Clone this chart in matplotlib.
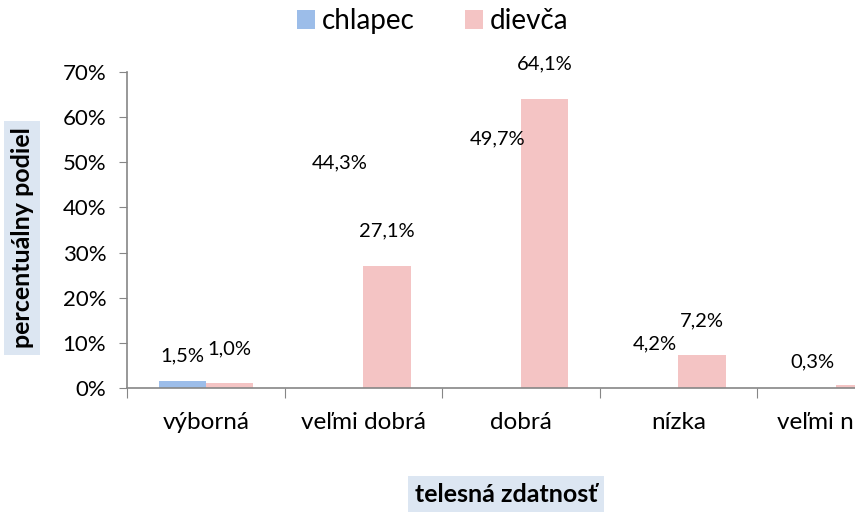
import matplotlib
matplotlib.use('Agg')
import matplotlib.pyplot as plt
import numpy as np

categories = ['výborná', 'veľmi dobrá', 'dobrá', 'nízka', 'veľmi nízka']
chlapec = [1.5, 44.3, 49.7, 4.2, 0.3]
dievca = [1.0, 27.1, 64.1, 7.2, 0.6]
chlapec_labels = ['1,5%', '44,3%', '49,7%', '4,2%', '0,3%']
# the last girl label lies outside the cropped picture in the original
dievca_labels = ['1,0%', '27,1%', '64,1%', '7,2%', None]
# only the first boy bar is drawn in the original
chlapec_shown = [True, False, False, False, False]

blue = '#9cbde9'
pink = '#f4c4c4'
grey = '#868686'
box = '#dce6f2'

plt.rcParams['font.family'] = ['Lato', 'DejaVu Sans']

fig = plt.figure(figsize=(8.55, 5.12), dpi=100)
# the plot runs past the right edge of the picture, as in the source
ax = fig.add_axes([127 / 855, 124 / 512, 787.5 / 855, 316 / 512])

x = np.arange(len(categories))
w = 0.3
ax.bar(x - w / 2, chlapec, w, color=[blue if s else 'none' for s in chlapec_shown],
       label='chlapec', zorder=2)
ax.bar(x + w / 2, dievca, w, color=pink, label='dievča', zorder=2)

for i in range(len(categories)):
    ax.annotate(chlapec_labels[i], (x[i] - w / 2, chlapec[i]), xytext=(0, 18),
                textcoords='offset points', ha='center', va='center', fontsize=14.5)
    if dievca_labels[i]:
        ax.annotate(dievca_labels[i], (x[i] + w / 2, dievca[i]), xytext=(0, 25),
                    textcoords='offset points', ha='center', va='center', fontsize=14.5)

ax.set_xlim(-0.5, len(categories) - 0.5)
ax.set_ylim(0, 70)
ax.set_yticks(range(0, 71, 10))
ax.set_yticklabels([f'{v}%' for v in range(0, 71, 10)], fontsize=16)

ax.set_xticks(np.arange(-0.5, len(categories), 1))
ax.set_xticklabels([])
ax.set_xticks(x, minor=True)
ax.set_xticklabels(categories, minor=True, fontsize=17.5)
ax.tick_params(axis='x', which='minor', length=0, pad=17)
ax.tick_params(axis='x', which='major', length=7, color=grey, direction='out')
ax.tick_params(axis='y', length=6, color=grey, pad=9)

for s in ['top', 'right']:
    ax.spines[s].set_visible(False)
for s in ['left', 'bottom']:
    ax.spines[s].set_color(grey)
    ax.spines[s].set_linewidth(1.2)

fig.text(22 / 855, 1 - 238 / 512, 'percentuálny podiel', rotation=90, ha='center', va='center',
         fontsize=18, fontweight='bold',
         bbox=dict(boxstyle='square,pad=0.25', fc=box, ec='none'))
fig.text(506 / 855, 1 - 494 / 512, 'telesná zdatnosť', ha='center', va='center',
         fontsize=18, fontweight='bold',
         bbox=dict(boxstyle='square,pad=0.28', fc=box, ec='none'))

leg = fig.legend(loc='center', bbox_to_anchor=(433 / 855, 1 - 21 / 512), ncol=2,
                 frameon=False, fontsize=20, handlelength=0.65, handleheight=0.65,
                 handletextpad=0.25, columnspacing=1.8)
leg.legend_handles[0].set_facecolor(blue)

fig.savefig('out.png', dpi=100)
